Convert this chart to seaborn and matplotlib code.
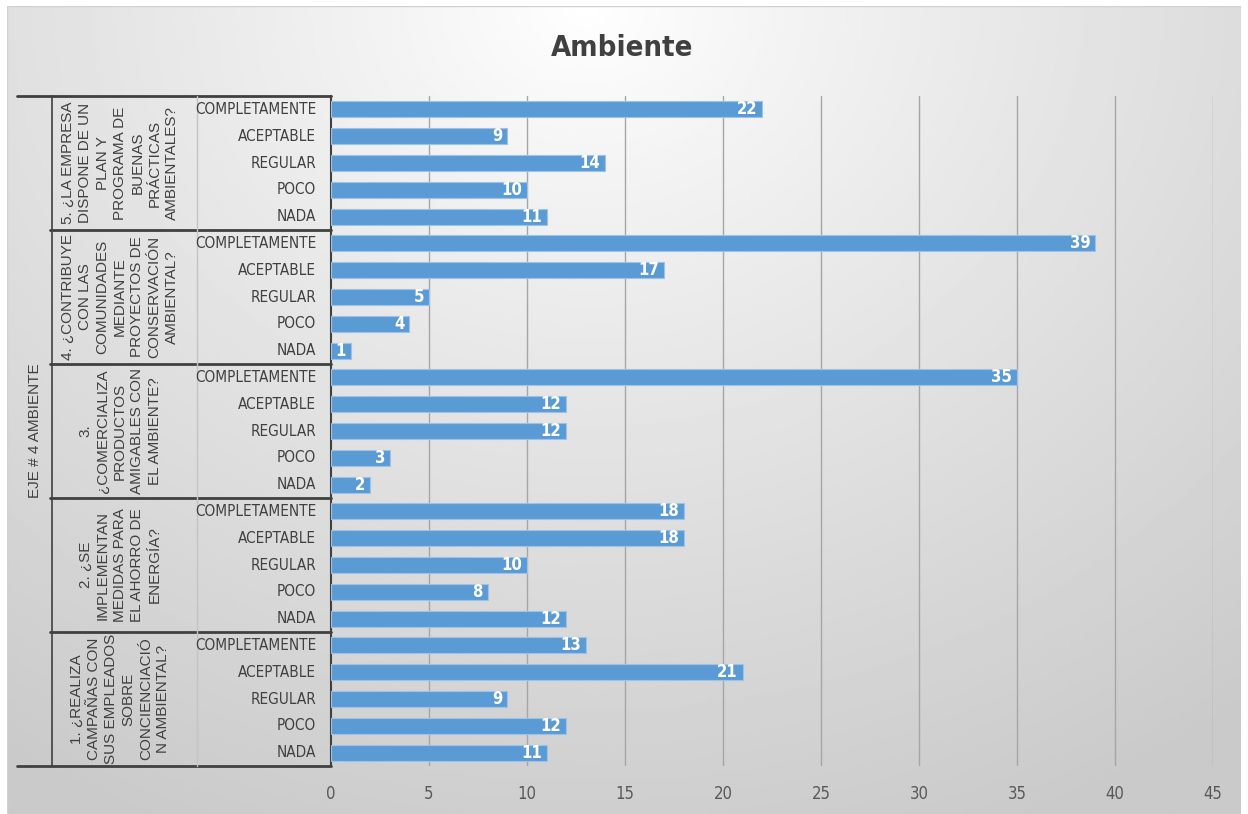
"""
Horizontal bar chart "Ambiente": survey answers for five questions of axis #4,
drawn Excel-style with a multi-level category axis on the left.
"""

import numpy as np
import pandas as pd
import matplotlib
matplotlib.use("Agg")
import matplotlib.pyplot as plt
from matplotlib.lines import Line2D
from matplotlib.transforms import blended_transform_factory
import seaborn as sns

# --- data -------------------------------------------------------------------
answers = ["NADA", "POCO", "REGULAR", "ACEPTABLE", "COMPLETAMENTE"]
questions = [
    "1. ¿REALIZA\nCAMPAÑAS CON\nSUS EMPLEADOS\nSOBRE\nCONCIENCIACIÓ\nN AMBIENTAL?",
    "2. ¿SE\nIMPLEMENTAN\nMEDIDAS PARA\nEL AHORRO DE\nENERGÍA?",
    "3.\n¿COMERCIALIZA\nPRODUCTOS\nAMIGABLES CON\nEL AMBIENTE?",
    "4. ¿CONTRIBUYE\nCON LAS\nCOMUNIDADES\nMEDIANTE\nPROYECTOS DE\nCONSERVACIÓN\nAMBIENTAL?",
    "5. ¿LA EMPRESA\nDISPONE DE UN\nPLAN Y\nPROGRAMA DE\nBUENAS\nPRÁCTICAS\nAMBIENTALES?",
]
axis_label = "EJE # 4 AMBIENTE"
title = "Ambiente"

# counts per answer (NADA, POCO, REGULAR, ACEPTABLE, COMPLETAMENTE)
q1_counts = [11, 12, 9, 21, 13]
q2_counts = [12, 8, 10, 18, 18]
q3_counts = [2, 3, 12, 12, 35]
q4_counts = [1, 4, 5, 17, 39]
q5_counts = [11, 10, 14, 9, 22]
all_counts = [q1_counts, q2_counts, q3_counts, q4_counts, q5_counts]

x_ticks = [0, 5, 10, 15, 20, 25, 30, 35, 40, 45]

# rows from top to bottom, like the Excel category axis
rows = []
for qi in reversed(range(len(questions))):
    for ai in reversed(range(len(answers))):
        rows.append({"key": f"Q{qi + 1}-{answers[ai]}",
                     "question": qi,
                     "answer": answers[ai],
                     "count": all_counts[qi][ai]})
df = pd.DataFrame(rows)

# --- figure -----------------------------------------------------------------
W, H = 1248, 814
sns.set_theme(style="white")
plt.rcParams["font.family"] = ["Liberation Sans", "DejaVu Sans"]
narrow = dict(family="DejaVu Sans", stretch="condensed")

fig = plt.figure(figsize=(W / 100, H / 100), dpi=100)
fig.patch.set_facecolor("white")


def fx(px):
    return px / W


def fy(py):
    return 1 - py / H


# gradient chart background (white at top centre, grey towards bottom/right)
bg = fig.add_axes([fx(7), 0, fx(1241) - fx(7), fy(6)], zorder=-10)
gx, gy = np.meshgrid(np.linspace(0, 1, 400), np.linspace(0, 1, 300))
r = np.sqrt(((gx - 0.47) * 1.1) ** 2 + ((gy - 0.0) * 0.85) ** 2)
shade = 1.0 - 0.21 * np.clip(r / 0.95, 0, 1) ** 0.9
bg.imshow(shade, cmap="gray", vmin=0, vmax=1, aspect="auto",
          extent=[0, 1, 1, 0], interpolation="bilinear")
bg.set_axis_off()
bg.add_patch(plt.Rectangle((0, 0), 1, 1, transform=bg.transAxes,
                           fill=False, edgecolor="#d0d0d0", lw=1))

x0, x1, y0, y1 = 331, 1213, 96, 766
ax = fig.add_axes([fx(x0), fy(y1), fx(x1) - fx(x0), (y1 - y0) / H])
ax.set_facecolor("none")

sns.barplot(data=df, x="count", y="key", orient="h", color="#5b9bd5",
            width=0.6, edgecolor="#9cc2e8", linewidth=0.8, saturation=1,
            ax=ax, zorder=3)

ax.set_xlim(0, 45)
ax.set_ylim(len(df) - 0.5, -0.5)
ax.set_xticks(x_ticks)
ax.set_xticklabels([str(t) for t in x_ticks], fontsize=12, color="#595959",
                   **narrow)
ax.tick_params(axis="x", length=0, pad=14)
ax.set_yticks([])
ax.set_xlabel("")
ax.set_ylabel("")
for t in x_ticks[1:]:
    ax.axvline(t, color="#a6a6a6", lw=1, zorder=1)
for s in ["top", "right", "bottom"]:
    ax.spines[s].set_visible(False)
ax.spines["left"].set_color("#404040")
ax.spines["left"].set_linewidth(1.5)

# value labels inside bar ends
for i, v in enumerate(df["count"]):
    ax.text(v - 0.25, i, str(v), ha="right", va="center", color="white",
            fontsize=12, fontweight="bold", zorder=4, **narrow)

# --- multi-level category axis ---------------------------------------------
tr = blended_transform_factory(ax.transAxes, ax.transData)


def ax_x(px):
    return (px - x0) / (x1 - x0)


n = len(answers)
for i, a in enumerate(df["answer"]):
    ax.text(ax_x(316), i, a, transform=tr, ha="right", va="center",
            fontsize=11, color="#404040", clip_on=False, **narrow)

line_kw = dict(transform=tr, color="#404040", clip_on=False)
ax.add_line(Line2D([ax_x(17), 0], [-0.5, -0.5], lw=2, **line_kw))
ax.add_line(Line2D([ax_x(17), 0], [len(df) - 0.5, len(df) - 0.5], lw=2, **line_kw))
ax.add_line(Line2D([ax_x(52), ax_x(52)], [-0.5, len(df) - 0.5], lw=1.2, **line_kw))
for g in range(1, len(questions)):
    yb = g * n - 0.5
    ax.add_line(Line2D([ax_x(50), 0], [yb, yb], lw=2, **line_kw))
ax.add_line(Line2D([ax_x(197), ax_x(197)], [-0.5, len(df) - 0.5],
                   transform=tr, color="#c4c4c4", lw=1, clip_on=False))

for g in range(len(questions)):
    qi = len(questions) - 1 - g
    yc = g * n + (n - 1) / 2
    ax.text(ax_x(120), yc, questions[qi], transform=tr, rotation=90,
            ha="center", va="center", multialignment="center",
            fontsize=11, linespacing=1.3, color="#404040", clip_on=False)

ax.text(ax_x(35), (len(df) - 1) / 2, axis_label, transform=tr, rotation=90,
        ha="center", va="center", fontsize=11, color="#404040", clip_on=False)

fig.text(fx(622), fy(48), title, ha="center", va="center", fontsize=21,
         fontweight="bold", color="#404040", **narrow)

fig.savefig("out.png", dpi=100)
